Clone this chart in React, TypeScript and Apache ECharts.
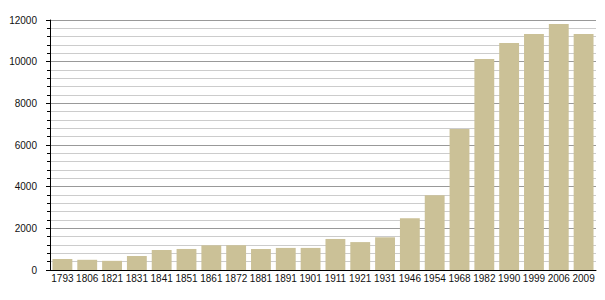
import React, { useEffect, useRef } from "react";
import * as echarts from "echarts";

const years = ["1793","1806","1821","1831","1841","1851","1861","1872","1881","1891","1901","1911","1921","1931","1946","1954","1968","1982","1990","1999","2006","2009"];
const population = [530,490,440,670,960,1010,1185,1190,1010,1060,1060,1490,1340,1570,2480,3585,6770,10130,10900,11330,11810,11330];
const yTicks = { min: 0, max: 12000, interval: 2000 };

export default function App() {
  const ref = useRef<HTMLDivElement>(null);
  useEffect(() => {
    const chart = echarts.init(ref.current!, null, { renderer: "svg" });
    chart.setOption({
      animation: false,
      grid: { left: 50, right: 9, top: 20, bottom: 30, containLabel: false },
      xAxis: {
        type: "category",
        data: years,
        axisLine: { show: true, lineStyle: { color: "#000", width: 1 } },
        axisTick: { show: false },
        axisLabel: { color: "#111", fontSize: 10, fontFamily: "Liberation Sans, Arial, sans-serif", margin: 3, interval: 0 },
      },
      yAxis: {
        type: "value",
        min: yTicks.min,
        max: yTicks.max,
        interval: yTicks.interval,
        axisLine: { show: true, lineStyle: { color: "#000", width: 1 } },
        axisTick: { show: true, length: 4, lineStyle: { color: "#000" } },
        minorTick: { show: true, splitNumber: 5, length: 3, lineStyle: { color: "#000" } },
        axisLabel: { color: "#111", fontSize: 10, fontFamily: "Liberation Sans, Arial, sans-serif", margin: 13, formatter: (v: number) => String(v) },
        splitLine: { show: true, lineStyle: { color: "#999", width: 1 } },
        minorSplitLine: { show: true, lineStyle: { color: "#ccc", width: 1 } },
      },
      series: [
        {
          type: "bar",
          data: population,
          barCategoryGap: "20%",
          itemStyle: { color: "#cbc197" },
        },
      ],
    });
    return () => chart.dispose();
  }, []);
  return <div ref={ref} style={{ width: 605, height: 300, position: "absolute", left: 0, top: 0 }} />;
}
